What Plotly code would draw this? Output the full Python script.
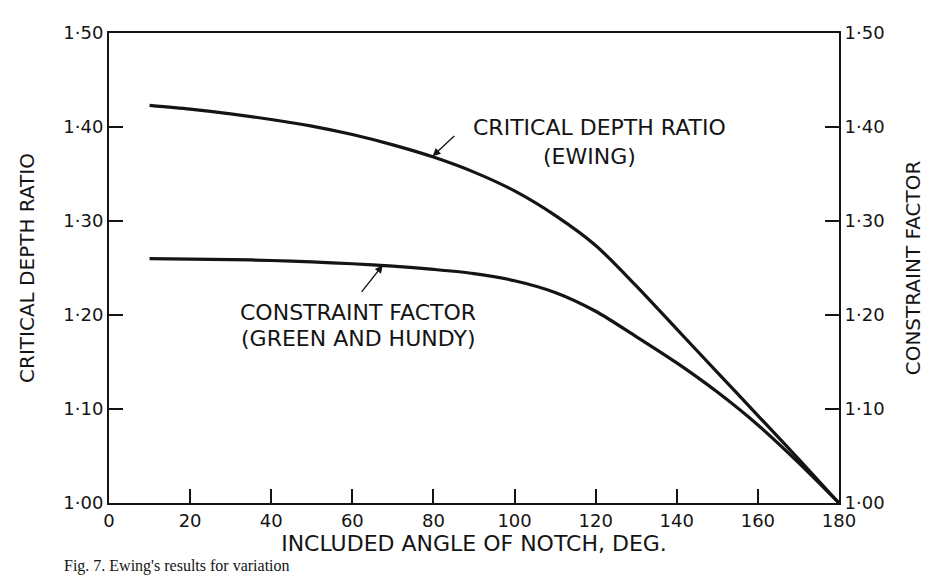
import plotly.graph_objects as go

# ---- data ----
angle_ewing = [10, 20, 30, 40, 50, 60, 70, 80, 90, 100, 110, 120, 130, 140, 150, 160, 170, 180]
depth_ratio_ewing = [1.423, 1.419, 1.414, 1.408, 1.401, 1.392, 1.381, 1.368, 1.352, 1.332,
                     1.306, 1.274, 1.231, 1.185, 1.139, 1.093, 1.047, 1.00]

angle_constraint = [10, 20, 30, 40, 50, 60, 70, 80, 90, 100, 110, 120, 130, 140, 150, 160, 170, 180]
constraint_factor = [1.260, 1.2595, 1.259, 1.258, 1.2565, 1.2545, 1.252, 1.2485, 1.244, 1.2365,
                     1.224, 1.204, 1.177, 1.149, 1.118, 1.083, 1.043, 1.00]

x_tickvals = [0, 20, 40, 60, 80, 100, 120, 140, 160, 180]
x_ticktext = ["0", "20", "40", "60", "80", "100", "120", "140", "160", "180"]
y_tickvals = [1.0, 1.1, 1.2, 1.3, 1.4, 1.5]
y_ticktext = ["1·00", "1·10", "1·20", "1·30", "1·40", "1·50"]

INK = "#141414"
FONT = "DejaVu Sans"

fig = go.Figure()
fig.add_trace(go.Scatter(x=angle_ewing, y=depth_ratio_ewing, mode="lines",
                         line=dict(color=INK, width=3.2, shape="spline", smoothing=0.8),
                         yaxis="y", showlegend=False, hoverinfo="x+y"))
fig.add_trace(go.Scatter(x=angle_constraint, y=constraint_factor, mode="lines",
                         line=dict(color=INK, width=3.2, shape="spline", smoothing=0.8),
                         yaxis="y2", showlegend=False, hoverinfo="x+y"))

axis_common = dict(showline=True, linecolor=INK, linewidth=2, ticks="inside",
                   ticklen=14, tickwidth=1.5, tickcolor=INK, showgrid=False,
                   zeroline=False, tickfont=dict(family=FONT, size=18, color=INK))

fig.update_layout(
    width=934, height=579,
    margin=dict(l=109, r=95, t=33, b=76),
    paper_bgcolor="white", plot_bgcolor="white",
    xaxis=dict(range=[0, 180], tickvals=x_tickvals, ticktext=x_ticktext,
               mirror=True,
               title=dict(text="INCLUDED ANGLE OF NOTCH, DEG.",
                          font=dict(family=FONT, size=22, color=INK), standoff=6),
               **axis_common),
    yaxis=dict(range=[1.0, 1.5], tickvals=y_tickvals, ticktext=y_ticktext,
               title=dict(text="CRITICAL DEPTH RATIO",
                          font=dict(family=FONT, size=20, color=INK), standoff=23),
               **axis_common),
    yaxis2=dict(range=[1.0, 1.5], tickvals=y_tickvals, ticktext=y_ticktext,
                overlaying="y", side="right",
                title=dict(text="CONSTRAINT FACTOR",
                           font=dict(family=FONT, size=20, color=INK), standoff=22),
                **axis_common),
)

ann_font = dict(family=FONT, size=22, color=INK)
fig.add_annotation(x=121, y=1.399, text="CRITICAL DEPTH RATIO", showarrow=False,
                   font=ann_font, xref="x", yref="y")
fig.add_annotation(x=118.6, y=1.369, text="(EWING)", showarrow=False,
                   font=ann_font, xref="x", yref="y")
fig.add_annotation(x=79.8, y=1.369, ax=85.5, ay=1.392, axref="x", ayref="y",
                   xref="x", yref="y", text="", showarrow=True,
                   arrowhead=2, arrowsize=1.2, arrowwidth=1.3, arrowcolor=INK)

fig.add_annotation(x=61.5, y=1.203, text="CONSTRAINT FACTOR", showarrow=False,
                   font=ann_font, xref="x", yref="y")
fig.add_annotation(x=61.3, y=1.175, text="(GREEN AND HUNDY)", showarrow=False,
                   font=ann_font, xref="x", yref="y")
fig.add_annotation(x=67.5, y=1.253, ax=62, ay=1.223, axref="x", ayref="y",
                   xref="x", yref="y", text="", showarrow=True,
                   arrowhead=2, arrowsize=1.2, arrowwidth=1.3, arrowcolor=INK)

fig.add_annotation(x=-0.065, y=-0.157, xref="paper", yref="paper",
                   xanchor="left", yanchor="bottom", showarrow=False,
                   text="Fig. 7. Ewing's results for variation",
                   font=dict(family="Liberation Serif", size=16, color=INK))

fig.write_html("out.html")
